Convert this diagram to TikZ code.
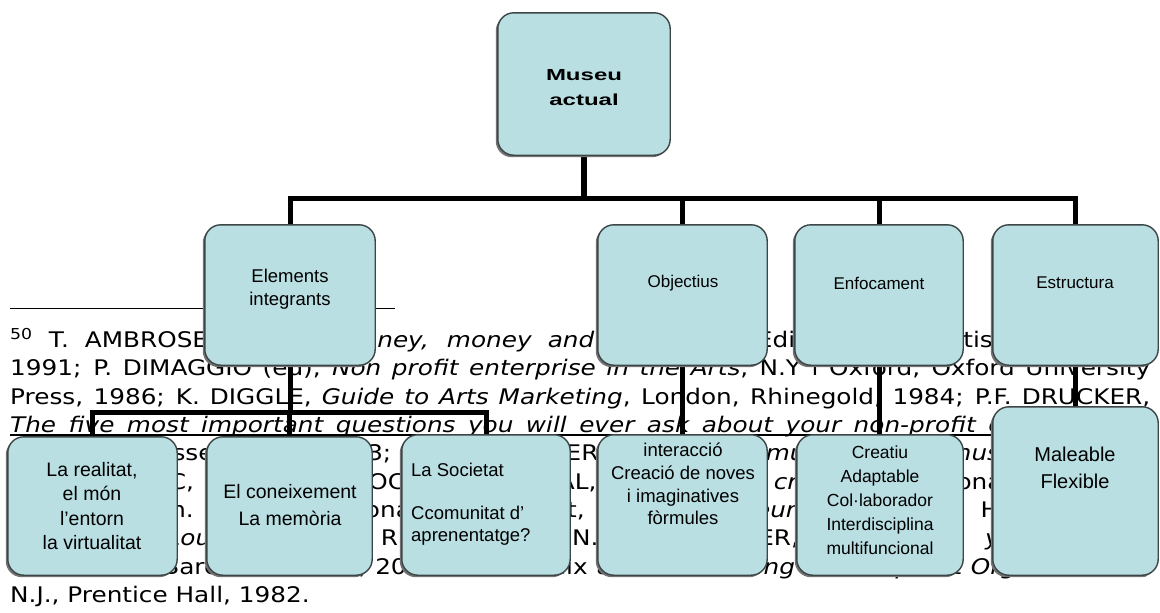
\documentclass[tikz,border=0pt]{standalone}
\usepackage{fontspec}
\setmainfont{Liberation Sans}
\newfontfamily\fnfont{DejaVu Sans}[FakeStretch=1.15,ItalicFont={DejaVu Sans Oblique},BoldFont={DejaVu Sans Bold}]
\usetikzlibrary{shadows}
\definecolor{boxfill}{RGB}{185,223,227}
\definecolor{boxline}{RGB}{60,70,70}
\begin{document}
\begin{tikzpicture}[x=1pt,y=-1pt,
  box/.style={draw=boxline, line width=1.4pt, fill=boxfill, rounded corners=16pt,
    inner sep=0pt, drop shadow={shadow xshift=-2pt, shadow yshift=-2pt, fill=black!55, opacity=1}},
  lbl/.style={inner sep=0pt, align=center, font=\fontsize{18.5}{22.5}\selectfont},
  fnline/.style={anchor=base west, inner sep=0pt, font=\fnfont\fontsize{21.5}{25}\selectfont},
  conn/.style={line width=5pt, black, line join=miter},
  thinrule/.style={line width=1pt, black}]
\useasboundingbox (0,0) rectangle (1160,613);
\fill[white] (0,0) rectangle (1160,613);

% footnote text
\draw[thinrule] (10,308) -- (395,308);
\node[fnline] (fn1) at (10,347) {\makebox[1140pt][s]{\textsuperscript{50} T. AMBROSE, \textit{Money, money, money and museums}, Edinburgh, Scottish Museums,}};
\node[fnline] (fn2) at (10,375.5) {\makebox[1140pt][s]{1991; P. DIMAGGIO (ed), \textit{Non profit enterprise in the Arts}, N.Y i Oxford, Oxford University}};
\node[fnline] (fn3) at (10,404) {\makebox[1140pt][s]{Press, 1986; K. DIGGLE, \textit{Guide to Arts Marketing}, London, Rhinegold, 1984; P.F. DRUCKER,}};
\node[fnline] (fn4) at (10,432) {\makebox[1140pt][s]{\textit{The five most important questions you will ever ask about your non-profit organization},}};
\node[fnline] (fn5) at (10,460) {\makebox[1140pt][s]{San Fco., Jossey-Bass, 1993; M. MONTANER (ed), \textit{La comunicació al museu}, Madrid,}};
\node[fnline] (fn6) at (10,489) {\makebox[1140pt][s]{Edicions UOC, 2003; A. ROCA, R. REYNAL, \textit{Museologia crítica}, Barcelona, Col·lecció}};
\node[fnline] (fn7) at (10,517) {\makebox[1140pt][s]{Estudis, núm. 3, Barcelona, Universitat, 1998; \textit{Museumska}, 2005; H. SCHÄFER,}};
\node[fnline] (fn8) at (10,545) {\makebox[1140pt][s]{\textit{Revue du Louvre}, Paris, RMN, 1995; N. i P. KOTLER, \textit{Estrategias y marketing}}};
\node[fnline] (fn9) at (10,574) {\makebox[1140pt][s]{\textit{de museos}, Barcelona, Ariel, 2001; del mateix autor \textit{Marketing for Nonprofit Organizations},}};
\node[fnline] (fn10) at (10,602) {N.J., Prentice Hall, 1982.};
\draw[line width=1.3pt] (10,435) -- (993,435);

% box positions
\path
  (584,84)    coordinate (cMuseu)
  (290,295)   coordinate (cElem)
  (682.5,295) coordinate (cObj)
  (879,295)   coordinate (cEnf)
  (1075.5,295) coordinate (cEst)
  (92.5,506)  coordinate (cReal)
  (289.5,506) coordinate (cCone)
  (486,505)   coordinate (cSoc)
  (682.5,505) coordinate (cInter)
  (880,505)   coordinate (cCrea)
  (1075.5,491) coordinate (cMal);

\coordinate (hub) at (584,198);
\coordinate (lhub) at (290,412);
\node[minimum width=172pt, minimum height=142pt, inner sep=0pt] (museu) at (cMuseu) {};
\node[minimum width=170pt, minimum height=140pt, inner sep=0pt] (elem) at (cElem) {};
\node[minimum width=169pt, minimum height=140pt, inner sep=0pt] (obj) at (cObj) {};
\node[minimum width=168pt, minimum height=140pt, inner sep=0pt] (enf) at (cEnf) {};
\node[minimum width=165pt, minimum height=140pt, inner sep=0pt] (est) at (cEst) {};
\node[minimum width=169pt, minimum height=138pt, inner sep=0pt] (real) at (cReal) {};
\node[minimum width=165pt, minimum height=138pt, inner sep=0pt] (cone) at (cCone) {};
\node[minimum width=168pt, minimum height=140pt, inner sep=0pt] (soc) at (cSoc) {};
\node[minimum width=169pt, minimum height=140pt, inner sep=0pt] (inter) at (cInter) {};
\node[minimum width=166pt, minimum height=140pt, inner sep=0pt] (crea) at (cCrea) {};
\node[minimum width=165pt, minimum height=168pt, inner sep=0pt] (mal) at (cMal) {};

% connectors (boxes are drawn over their ends)
\draw[conn, line width=6.5pt] (museu.south) -- (hub);
\draw[conn] (elem.north) -- (elem.north |- hub) -- (est.north |- hub) -- (est.north);
\draw[conn] (obj.north |- hub) -- (obj.north);
\draw[conn] (enf.north |- hub) -- (enf.north);
\draw[conn] (elem.south) -- (lhub);
\draw[conn] (real.north) -- (real.north |- lhub) -- (soc.north |- lhub) -- (soc.north);
\draw[conn] (cone.north |- lhub) -- (cone.north);
\draw[conn] (obj.south) -- (inter.north);
\draw[conn] (enf.south) -- (enf.south |- crea.north);
\draw[conn] (est.south) -- (mal.north);

% boxes
\foreach \n in {museu,elem,obj,enf,est,real,cone,soc,inter,crea,mal}{
  \path[box] (\n.south west) rectangle (\n.north east);
}

% labels
\node[lbl, font=\fontsize{16}{25}\selectfont\bfseries] (tMuseu) at (584,87.5) {\scalebox{1.5}[1]{Museu}\\\scalebox{1.5}[1]{actual}};
\node[lbl] (tElem) at (290,289) {Elements\\integrants};
\node[lbl, font=\fontsize{17}{20}\selectfont] (tObj) at (683,283) {Objectius};
\node[lbl, font=\fontsize{17}{20}\selectfont] (tEnf) at (879,283) {Enfocament};
\node[lbl, font=\fontsize{17}{20}\selectfont] (tEst) at (1075,283) {Estructura};
\node[lbl, font=\fontsize{19.5}{24.5}\selectfont] (tReal) at (92,506) {La realitat,\\el món\\l'entorn\\la virtualitat};
\node[lbl, font=\fontsize{19.5}{27}\selectfont] (tCone) at (290,505) {El coneixement\\La memòria};
\node[lbl, align=left, anchor=west, font=\fontsize{18.5}{21.7}\selectfont] (tSoc) at (411,504) {La Societat\\\mbox{}\\Ccomunitat d'\\aprenentatge?};
\node[lbl, font=\fontsize{18.5}{22.7}\selectfont] (tInter) at (683,484) {interacció\\Creació de noves\\i imaginatives\\fòrmules};
\node[lbl, font=\fontsize{17.5}{24}\selectfont] (tCrea) at (880,500) {Creatiu\\Adaptable\\Col·laborador\\Interdisciplina\\multifuncional};
\node[lbl, font=\fontsize{20}{27}\selectfont] (tMal) at (1075,468) {Maleable\\Flexible};
\end{tikzpicture}
\end{document}
